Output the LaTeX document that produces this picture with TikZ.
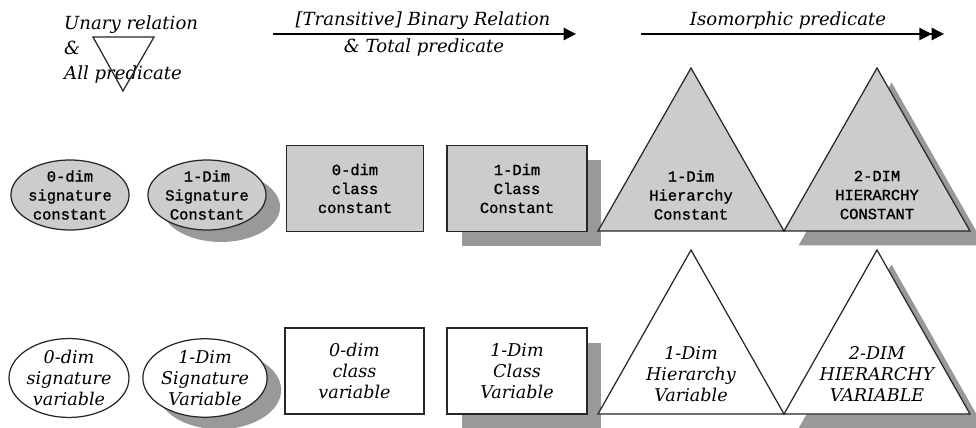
\documentclass[tikz,border=0pt]{standalone}
\usepackage{fontspec}
\newfontfamily\constfont[FakeBold=1.2]{Liberation Mono}
\newfontfamily\slantfont{DejaVu Serif}
\usetikzlibrary{positioning, shapes.geometric, arrows.meta, shadows}

\definecolor{constgray}{RGB}{204,204,204}
\definecolor{shadegray}{RGB}{153,153,153}

\tikzset{
  outline/.style={draw=black!85, line width=0.7pt},
  constlbl/.style={font=\constfont\fontsize{8.8}{10.8}\selectfont, align=center},
  varlbl/.style={font=\slantfont\itshape\fontsize{10}{12}\selectfont, align=center},
  headlbl/.style={font=\slantfont\itshape\fontsize{10.3}{14.2}\selectfont},
  sig/.style={ellipse, outline, minimum width=2.28cm, minimum height=1.4cm, inner sep=0pt},
  cls/.style={rectangle, outline, minimum height=1.72cm, inner sep=0pt},
  shade/.style={drop shadow={shadow xshift=0.29cm, shadow yshift=-0.29cm, fill=shadegray, opacity=1}},
  roundshade/.style={drop shadow={shadow xshift=0.28cm, shadow yshift=-0.24cm, fill=shadegray, opacity=1}},
  relarrow/.style={line width=0.7pt, -{Triangle[length=7pt,width=7pt]}},
}

\begin{document}
\begin{tikzpicture}[x=0.02cm, y=-0.02cm]
  \useasboundingbox (0,0) rectangle (976,428);

  % headings
  \node[headlbl, anchor=north west, align=left] (unary) at (58,10)
    {Unary relation\\ \&\\ All predicate};
  \draw[outline] (93,37) -- (154,37) -- (123,91) -- cycle;

  \coordinate (trans start) at (273,34);
  \coordinate (trans end) at (576,34);
  \draw[relarrow] (trans start) -- (trans end);
  \node[headlbl] (trans) at (423,21) {[Transitive] Binary Relation};
  \node[headlbl] (total) at (424,48) {\& Total predicate};

  \coordinate (iso start) at (641,34);
  \coordinate (iso end) at (944,34);
  \draw[line width=0.7pt, -{Triangle[length=7pt,width=7pt] Triangle[length=7pt,width=7pt]}]
    (iso start) -- (iso end);
  \node[headlbl] (iso) at (788,21) {Isomorphic predicate};

  % constants
  \node[sig, fill=constgray, constlbl] (sigc0) at (70,195) {0-dim\\signature\\constant};
  \node[sig, fill=constgray, constlbl, roundshade] (sigc1) at (207,195) {1-Dim\\Signature\\Constant};
  \node[cls, fill=constgray, constlbl, minimum width=2.74cm] (clsc0) at (355,188.5) {0-dim\\class\\constant};
  \node[cls, fill=constgray, constlbl, minimum width=2.8cm, shade] (clsc1) at (517,188.5) {1-Dim\\Class\\Constant};
  \draw[outline, fill=constgray] (598,231) -- (691,68) -- (784,231) -- cycle;
  \node[constlbl] (hierc1) at (691,195) {1-Dim\\Hierarchy\\Constant};
  \draw[outline, fill=constgray, shade] (784,231) -- (877,68) -- (970,231) -- cycle;
  \node[constlbl] (hierc2) at (877,195) {2-DIM\\HIERARCHY\\CONSTANT};

  % variables
  \node[sig, fill=white, varlbl] (sigv0) at (69,378) {0-dim\\signature\\variable};
  \node[sig, fill=white, varlbl, roundshade] (sigv1) at (205,378) {1-Dim\\Signature\\Variable};
  \node[cls, fill=white, varlbl, minimum width=2.78cm] (clsv0) at (354.5,371) {0-dim\\class\\variable};
  \node[cls, fill=white, varlbl, minimum width=2.8cm, shade] (clsv1) at (517,371) {1-Dim\\Class\\Variable};
  \draw[outline, fill=white] (598,414) -- (691,250) -- (784,414) -- cycle;
  \node[varlbl] (hierv1) at (691,374) {1-Dim\\Hierarchy\\Variable};
  \draw[outline, fill=white, shade] (784,414) -- (877,250) -- (970,414) -- cycle;
  \node[varlbl] (hierv2) at (877,374) {2-DIM\\HIERARCHY\\VARIABLE};
\end{tikzpicture}
\end{document}
